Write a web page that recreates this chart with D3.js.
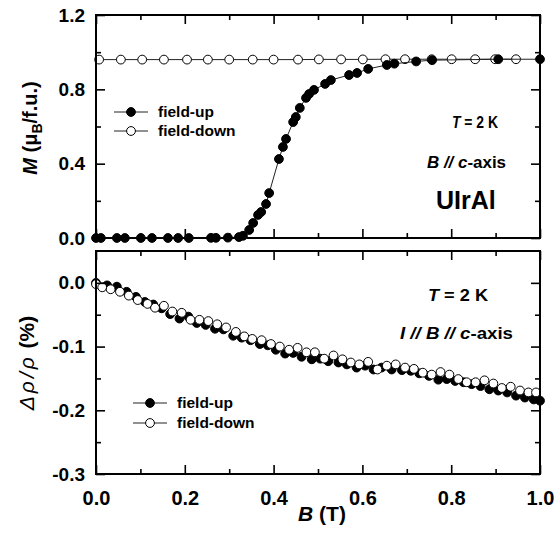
<!DOCTYPE html>
<html><head><meta charset="utf-8">
<script src="https://cdn.jsdelivr.net/npm/d3@7"></script>
<style>body{margin:0;background:#fff}svg{display:block;font-family:"Liberation Sans",Arial,sans-serif}</style>
</head><body>
<svg id="c" width="557" height="534"></svg>
<script>
// ---- Data ----
const magUpB = [0.000,0.011,0.047,0.065,0.101,0.126,0.162,0.185,0.209,0.259,0.270,0.297,0.322,0.331,0.345,0.354,0.365,0.372,0.383,0.390,0.412,0.421,0.428,0.444,0.450,0.459,0.473,0.480,0.491,0.516,0.529,0.570,0.588,0.613,0.655,0.672,0.721,0.757,0.906,1.000];
const magUpM = [0.000,0.000,0.000,0.000,0.000,0.000,0.000,0.000,0.000,0.001,0.001,0.002,0.005,0.012,0.043,0.081,0.124,0.140,0.183,0.242,0.425,0.490,0.533,0.624,0.651,0.700,0.754,0.775,0.797,0.829,0.850,0.877,0.888,0.910,0.931,0.938,0.950,0.957,0.962,0.962];
const magDownB = [0.007,0.056,0.104,0.153,0.205,0.252,0.300,0.353,0.400,0.455,0.502,0.552,0.601,0.652,0.696,0.756,0.801,0.854,0.899,0.946];
const magDownM = [0.960,0.960,0.960,0.960,0.960,0.960,0.960,0.960,0.960,0.960,0.961,0.961,0.961,0.962,0.962,0.962,0.962,0.962,0.962,0.962];

const resUpB = [0.000,0.025,0.047,0.069,0.090,0.110,0.129,0.148,0.167,0.188,0.208,0.227,0.247,0.268,0.287,0.309,0.328,0.348,0.369,0.387,0.405,0.426,0.444,0.463,0.486,0.505,0.523,0.546,0.565,0.587,0.606,0.625,0.643,0.666,0.689,0.709,0.728,0.750,0.771,0.790,0.809,0.828,0.846,0.866,0.886,0.906,0.926,0.946,0.966,0.986,1.000];
const resUpR = [0.000,-0.004,-0.006,-0.014,-0.022,-0.030,-0.034,-0.040,-0.049,-0.056,-0.053,-0.063,-0.066,-0.072,-0.073,-0.083,-0.086,-0.090,-0.096,-0.098,-0.105,-0.111,-0.110,-0.116,-0.120,-0.119,-0.123,-0.125,-0.128,-0.133,-0.130,-0.136,-0.133,-0.136,-0.137,-0.138,-0.142,-0.146,-0.152,-0.151,-0.154,-0.156,-0.159,-0.162,-0.167,-0.169,-0.172,-0.177,-0.180,-0.183,-0.185];
const resDownB = [0.000,0.014,0.033,0.054,0.074,0.094,0.116,0.133,0.153,0.172,0.193,0.213,0.233,0.253,0.273,0.293,0.315,0.334,0.352,0.373,0.394,0.414,0.435,0.454,0.474,0.493,0.514,0.535,0.555,0.574,0.593,0.613,0.634,0.655,0.675,0.696,0.716,0.736,0.756,0.776,0.796,0.816,0.835,0.855,0.875,0.895,0.914,0.934,0.955,0.974,0.991];
const resDownR = [-0.002,-0.007,-0.010,-0.014,-0.020,-0.027,-0.033,-0.039,-0.036,-0.045,-0.047,-0.058,-0.058,-0.060,-0.065,-0.070,-0.077,-0.084,-0.088,-0.090,-0.096,-0.100,-0.105,-0.102,-0.109,-0.109,-0.119,-0.114,-0.120,-0.125,-0.128,-0.124,-0.136,-0.130,-0.128,-0.133,-0.135,-0.141,-0.144,-0.140,-0.144,-0.151,-0.156,-0.156,-0.153,-0.158,-0.165,-0.163,-0.169,-0.172,-0.172];

const xTicks = [0, 0.2, 0.4, 0.6, 0.8, 1.0];
const xMinor = [0.1, 0.3, 0.5, 0.7, 0.9];
const topTicks = [0, 0.4, 0.8, 1.2];
const topMinor = [0.2, 0.6, 1.0];
const botTicks = [0, -0.1, -0.2, -0.3];
const botMinor = [-0.05, -0.15, -0.25];
const legendLabels = ["field-up", "field-down"];

// ---- Layout ----
const svg = d3.select("#c");
const X0 = 96, X1 = 540;
const x = d3.scaleLinear().domain([0, 1]).range([X0, X1]);
const yT = d3.scaleLinear().domain([0, 1.2]).range([238, 15]);
const yB = d3.scaleLinear().domain([-0.3, 0.05]).range([474, 251]);
const fmt = d => d3.format(".1f")(d).replace("−", "-");

function frame(y, ticks, minor, showX) {
  const [b, t] = y.range();
  const g = svg.append("g");
  const styleAxis = a => { a.select(".domain").remove(); a.selectAll("line").attr("stroke", "#000").attr("stroke-width", 1.6); };
  // left
  g.append("g").attr("transform", `translate(${X0},0)`).call(d3.axisLeft(y).tickValues(ticks).tickSize(-9).tickPadding(11).tickFormat(fmt))
    .call(styleAxis).call(a => a.selectAll("text").attr("font-size", 19).attr("font-weight", "bold").attr("fill", "#000").attr("font-family", "Liberation Sans, Arial"));
  g.append("g").attr("transform", `translate(${X0},0)`).call(d3.axisLeft(y).tickValues(minor).tickSize(-5).tickFormat("")).call(styleAxis);
  // right
  g.append("g").attr("transform", `translate(${X1},0)`).call(d3.axisRight(y).tickValues(ticks).tickSize(-9).tickFormat("")).call(styleAxis);
  g.append("g").attr("transform", `translate(${X1},0)`).call(d3.axisRight(y).tickValues(minor).tickSize(-5).tickFormat("")).call(styleAxis);
  // top
  g.append("g").attr("transform", `translate(0,${t})`).call(d3.axisTop(x).tickValues(xTicks).tickSize(-9).tickFormat("")).call(styleAxis);
  g.append("g").attr("transform", `translate(0,${t})`).call(d3.axisTop(x).tickValues(xMinor).tickSize(-5).tickFormat("")).call(styleAxis);
  // bottom
  const bx = g.append("g").attr("transform", `translate(0,${b})`).call(d3.axisBottom(x).tickValues(xTicks).tickSize(-9).tickPadding(17).tickFormat(showX ? fmt : "")).call(styleAxis);
  bx.selectAll("text").attr("font-size", 20).attr("font-weight", "bold").attr("fill", "#000").attr("font-family", "Liberation Sans, Arial");
  g.append("g").attr("transform", `translate(0,${b})`).call(d3.axisBottom(x).tickValues(xMinor).tickSize(-5).tickFormat("")).call(styleAxis);
  g.append("rect").attr("x", X0).attr("y", t).attr("width", X1 - X0).attr("height", b - t)
    .attr("fill", "none").attr("stroke", "#000").attr("stroke-width", 2);
}

function series(y, xs, ys, filled, withLine) {
  const pts = xs.map((v, i) => [v, ys[i]]);
  const g = svg.append("g");
  if (withLine) {
    g.append("path").datum(pts).attr("fill", "none").attr("stroke", "#222").attr("stroke-width", 1)
      .attr("d", d3.line().x(d => x(d[0])).y(d => y(d[1])));
  }
  g.selectAll("circle").data(pts).join("circle")
    .attr("cx", d => x(d[0])).attr("cy", d => y(d[1])).attr("r", 4.4)
    .attr("fill", filled ? "#000" : "#fff").attr("stroke", "#000").attr("stroke-width", 1);
}

function legend(lx, ly, gap) {
  legendLabels.forEach((lab, i) => {
    const yy = ly + i * gap;
    svg.append("line").attr("x1", lx).attr("x2", lx + 34).attr("y1", yy).attr("y2", yy).attr("stroke", "#222").attr("stroke-width", 1);
    svg.append("circle").attr("cx", lx + 17).attr("cy", yy).attr("r", 4.4)
      .attr("fill", i === 0 ? "#000" : "#fff").attr("stroke", "#000");
    svg.append("text").attr("x", lx + 44).attr("y", yy + 5).attr("font-size", 15.5).attr("font-weight", "bold").text(lab);
  });
}

// ---- Top panel ----
series(yT, magDownB, magDownM, false, true);
series(yT, magUpB, magUpM, true, true);
frame(yT, topTicks, topMinor, false);
legend(114, 112, 19);

const t1 = svg.append("text").attr("x", 452).attr("y", 128).attr("font-size", 16).attr("font-weight", "bold").attr("textLength", 46).attr("lengthAdjust", "spacingAndGlyphs");
t1.append("tspan").attr("font-style", "italic").text("T");
t1.append("tspan").text(" = 2 K");
const t2 = svg.append("text").attr("x", 427).attr("y", 168).attr("font-size", 16).attr("font-weight", "bold").attr("textLength", 79).attr("lengthAdjust", "spacingAndGlyphs");
t2.append("tspan").attr("font-style", "italic").text("B // c");
t2.append("tspan").text("-axis");
svg.append("text").attr("x", 436).attr("y", 209).attr("font-size", 25).attr("font-weight", "bold").text("UIrAl");

// y title top
const yt = svg.append("text").attr("transform", "translate(37,128) rotate(-90)").attr("text-anchor", "middle")
  .attr("font-size", 20).attr("font-weight", "bold");
yt.append("tspan").attr("font-style", "italic").text("M");
yt.append("tspan").text(" (μ");
yt.append("tspan").attr("font-size", 14).attr("dy", 5).text("B");
yt.append("tspan").attr("dy", -5).text("/f.u.)");

// ---- Bottom panel ----
series(yB, resUpB, resUpR, true, false);
series(yB, resDownB, resDownR, false, false);
frame(yB, botTicks, botMinor, true);
legend(133, 403, 20);

const t3 = svg.append("text").attr("x", 428).attr("y", 301).attr("font-size", 17).attr("font-weight", "bold").attr("textLength", 60).attr("lengthAdjust", "spacingAndGlyphs");
t3.append("tspan").attr("font-style", "italic").text("T");
t3.append("tspan").text(" = 2 K");
const t4 = svg.append("text").attr("x", 400).attr("y", 339).attr("font-size", 17).attr("font-weight", "bold").attr("textLength", 113).attr("lengthAdjust", "spacingAndGlyphs");
t4.append("tspan").attr("font-style", "italic").text("I // B // c");
t4.append("tspan").text("-axis");

const yb = svg.append("text").attr("transform", "translate(34,363) rotate(-90)").attr("text-anchor", "middle").attr("font-size", 21);
yb.append("tspan").attr("font-style", "italic").attr("letter-spacing", 3).text("Δρ/ρ");
yb.append("tspan").attr("font-weight", "bold").text(" (%)");

const xt = svg.append("text").attr("x", 322).attr("y", 521).attr("text-anchor", "middle").attr("font-size", 21).attr("font-weight", "bold");
xt.append("tspan").attr("font-style", "italic").text("B");
xt.append("tspan").text(" (T)");
</script>
</body></html>
